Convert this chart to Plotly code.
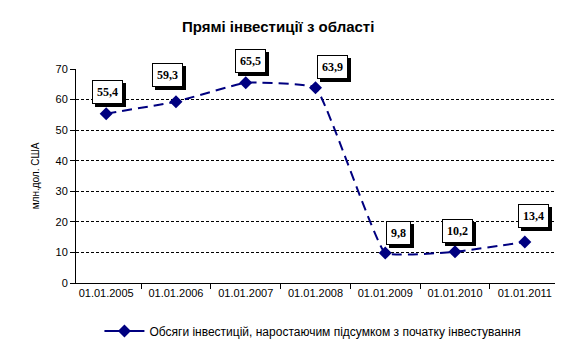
import plotly.graph_objects as go

categories = ["01.01.2005", "01.01.2006", "01.01.2007", "01.01.2008",
              "01.01.2009", "01.01.2010", "01.01.2011"]
values = [55.4, 59.3, 65.5, 63.9, 9.8, 10.2, 13.4]
labels = ["55,4", "59,3", "65,5", "63,9", "9,8", "10,2", "13,4"]
series_name = "Обсяги інвестицій, наростаючим підсумком з початку інвестування"
title_text = "Прямі інвестиції з області"
y_title = "млн.дол. США"

# pixel offsets of each data-label box (style only)
label_dx = [1, -8, 5, 17, 13, 2, 9]
label_dy = [-22, -27, -22, -21, -20, -21, -26]

navy = "#000080"

fig = go.Figure()
fig.add_trace(go.Scatter(
    x=categories, y=values, mode="lines+markers", name=series_name,
    line=dict(color=navy, width=2, dash="10px,6px", shape="spline", smoothing=0.3),
    marker=dict(symbol="diamond", size=10, color=navy),
    cliponaxis=False, showlegend=False,
))
# legend entry with a solid sample line, as in the original legend
fig.add_trace(go.Scatter(
    x=[None], y=[None], mode="lines+markers", name=series_name,
    line=dict(color=navy, width=2),
    marker=dict(symbol="diamond", size=10, color=navy),
    showlegend=True,
))

annotations = []
for c, v, t, dx, dy in zip(categories, values, labels, label_dx, label_dy):
    # shadow
    annotations.append(dict(x=c, y=v, text="<b>" + t + "</b>", showarrow=True, arrowcolor="rgba(0,0,0,0)",
                            ax=dx + 3, ay=dy + 3, xref="x", yref="y",
                            font=dict(family="Liberation Serif", size=12, color="black"),
                            bgcolor="black", bordercolor="black", borderwidth=1, borderpad=4))
    annotations.append(dict(x=c, y=v, text="<b>" + t + "</b>", showarrow=True, arrowcolor="rgba(0,0,0,0)",
                            ax=dx, ay=dy, xref="x", yref="y",
                            font=dict(family="Liberation Serif", size=12, color="black"),
                            bgcolor="white", bordercolor="black", borderwidth=1, borderpad=4))

fig.update_layout(
    width=570, height=351,
    margin=dict(l=76, r=15, t=69, b=68, autoexpand=False),
    paper_bgcolor="white", plot_bgcolor="white",
    title=dict(text="<b>" + title_text + "</b>", x=0.488, xanchor="center", y=0.923, yanchor="middle",
               font=dict(family="Liberation Sans", size=15, color="black")),
    font=dict(family="Liberation Sans", size=11, color="black"),
    xaxis=dict(type="category", categoryorder="array", categoryarray=categories,
               tickson="boundaries", ticks="outside", ticklen=5,
               tickcolor="black", showline=True, linecolor="black", linewidth=1,
               showgrid=False, tickfont=dict(size=11), fixedrange=True),
    yaxis=dict(range=[0, 70], dtick=10, ticks="outside", ticklen=5, tickcolor="black",
               showline=True, linecolor="black", linewidth=1,
               showgrid=True, gridcolor="black", gridwidth=1, griddash="3px,2px",
               zeroline=False, tickfont=dict(size=11),
               title=dict(text=y_title, font=dict(size=10), standoff=14)),
    showlegend=True,
    legend=dict(orientation="h", xref="container", yref="container",
                x=0.549, xanchor="center", y=0.057, yanchor="middle",
                font=dict(size=12), itemwidth=40),
    annotations=annotations,
)

fig.write_html("out.html")
